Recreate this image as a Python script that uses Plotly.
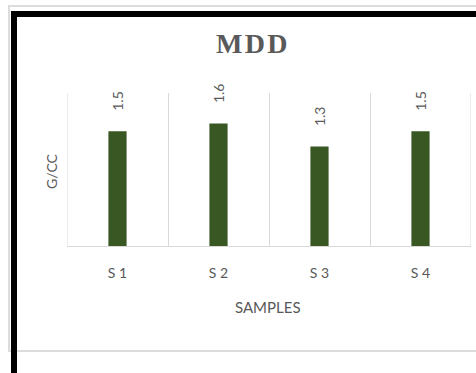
import plotly.graph_objects as go

# Maximum dry density per sample
samples = ["S 1", "S 2", "S 3", "S 4"]
mdd_values = [1.5, 1.6, 1.3, 1.5]
value_labels = ["1.5", "1.6", "1.3", "1.5"]

W, H = 476, 373
L, R, T, B = 67, 5, 93, 127
PW, PH = W - L - R, H - T - B


def px(x):
    return (x - L) / PW


def py(y):
    return (H - B - y) / PH


GRID = "#d9d9d9"
TEXT = "#595959"
FONT = "Lato, 'Open Sans', sans-serif"

fig = go.Figure(
    go.Bar(
        x=samples,
        y=mdd_values,
        marker=dict(color="#385723", line=dict(width=0)),
        hoverinfo="skip",
    )
)

annotations = [
    dict(
        x=s, y=v, xref="x", yref="y", text=t, textangle=-90,
        showarrow=False, xanchor="center", yanchor="bottom", yshift=18,
        font=dict(family=FONT, size=14, color=TEXT),
    )
    for s, v, t in zip(samples, mdd_values, value_labels)
]

annotations += [
    dict(text="<b>M\u200aD\u200aD</b>", x=px(252), y=py(43), xref="paper", yref="paper",
         showarrow=False, xanchor="center", yanchor="middle",
         font=dict(family="'Liberation Serif', serif", size=28, color=TEXT)),
    dict(text="G/CC", x=px(51), y=py(171), xref="paper", yref="paper",
         showarrow=False, xanchor="center", yanchor="middle", textangle=-90,
         font=dict(family=FONT, size=14, color=TEXT)),
    dict(text="SAMPLES", x=px(268), y=py(307), xref="paper", yref="paper",
         showarrow=False, xanchor="center", yanchor="middle",
         font=dict(family=FONT, size=15, color=TEXT)),
]

shapes = [
    # light outer frame
    dict(type="rect", xref="paper", yref="paper",
         x0=px(9), x1=px(520), y0=py(351), y1=py(6),
         line=dict(color="#dcdcdc", width=2), layer="below"),
    # heavy black border, left and top
    dict(type="line", xref="paper", yref="paper",
         x0=px(14), x1=px(14), y0=py(11), y1=py(400),
         line=dict(color="black", width=6)),
    dict(type="line", xref="paper", yref="paper",
         x0=px(11), x1=px(520), y0=py(14), y1=py(14),
         line=dict(color="black", width=6)),
]

# outer category boundaries of the plot area
for edge in (-0.5, len(samples) - 0.5):
    shapes.append(dict(type="line", xref="x", yref="paper",
                       x0=edge, x1=edge, y0=0, y1=1,
                       line=dict(color=GRID, width=1), layer="below"))

fig.update_layout(
    width=W, height=H,
    margin=dict(l=L, r=R, t=T, b=B, pad=0),
    paper_bgcolor="white", plot_bgcolor="white",
    bargap=0.82,
    showlegend=False,
    annotations=annotations,
    shapes=shapes,
    xaxis=dict(
        range=[-0.5, len(samples) - 0.5],
        tickson="boundaries", showgrid=True, gridcolor=GRID, gridwidth=1,
        showline=True, linecolor=GRID, linewidth=1,
        ticks="", ticklabelstandoff=14,
        tickfont=dict(family=FONT, size=14, color=TEXT),
        zeroline=False,
    ),
    yaxis=dict(
        range=[0, 2], showgrid=False, showticklabels=False, ticks="",
        zeroline=False, showline=False,
    ),
)

fig.write_html("out.html")
